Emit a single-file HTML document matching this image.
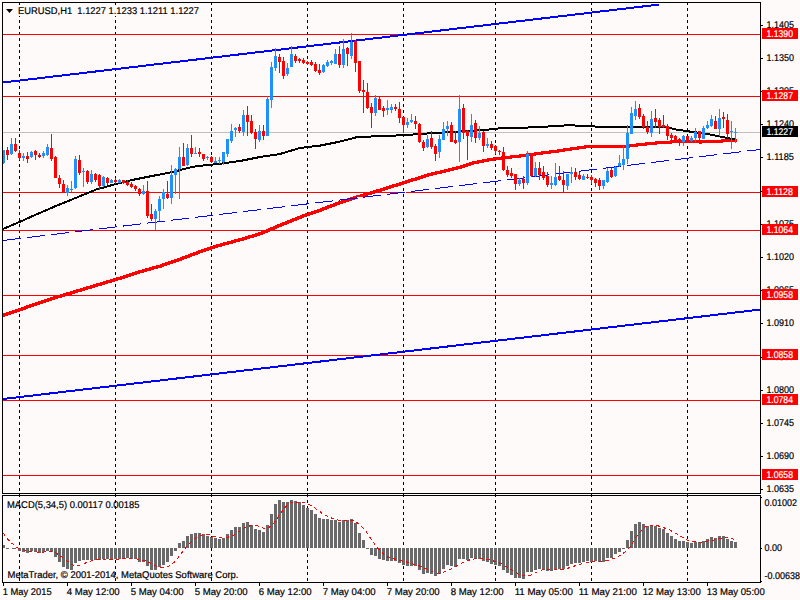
<!DOCTYPE html>
<html><head><meta charset="utf-8"><title>EURUSD,H1</title>
<style>html,body{margin:0;padding:0;background:#FFFAFA;overflow:hidden}svg{display:block}text{font-family:"Liberation Sans",sans-serif;font-size:9.8px;text-rendering:geometricPrecision;fill:#000;stroke:#000;stroke-width:0.2px}.w{fill:#fff;stroke:#fff}</style></head><body>
<svg width="800" height="600" viewBox="0 0 800 600">
<rect x="0" y="0" width="800" height="600" fill="#FFFAFA"/>
<g shape-rendering="crispEdges">
<line x1="19.5" y1="2" x2="19.5" y2="493" stroke="#000" stroke-width="1" stroke-dasharray="3 3"/>
<line x1="19.5" y1="494" x2="19.5" y2="582" stroke="#000" stroke-width="1" stroke-dasharray="3 3" stroke-dashoffset="0"/>
<line x1="115.5" y1="2" x2="115.5" y2="493" stroke="#000" stroke-width="1" stroke-dasharray="3 3"/>
<line x1="115.5" y1="494" x2="115.5" y2="582" stroke="#000" stroke-width="1" stroke-dasharray="3 3" stroke-dashoffset="0"/>
<line x1="211.5" y1="2" x2="211.5" y2="493" stroke="#000" stroke-width="1" stroke-dasharray="3 3"/>
<line x1="211.5" y1="494" x2="211.5" y2="582" stroke="#000" stroke-width="1" stroke-dasharray="3 3" stroke-dashoffset="0"/>
<line x1="307.5" y1="2" x2="307.5" y2="493" stroke="#000" stroke-width="1" stroke-dasharray="3 3"/>
<line x1="307.5" y1="494" x2="307.5" y2="582" stroke="#000" stroke-width="1" stroke-dasharray="3 3" stroke-dashoffset="0"/>
<line x1="403.5" y1="2" x2="403.5" y2="493" stroke="#000" stroke-width="1" stroke-dasharray="3 3"/>
<line x1="403.5" y1="494" x2="403.5" y2="582" stroke="#000" stroke-width="1" stroke-dasharray="3 3" stroke-dashoffset="0"/>
<line x1="495.5" y1="2" x2="495.5" y2="493" stroke="#000" stroke-width="1" stroke-dasharray="3 3"/>
<line x1="495.5" y1="494" x2="495.5" y2="582" stroke="#000" stroke-width="1" stroke-dasharray="3 3" stroke-dashoffset="0"/>
<line x1="591.5" y1="2" x2="591.5" y2="493" stroke="#000" stroke-width="1" stroke-dasharray="3 3"/>
<line x1="591.5" y1="494" x2="591.5" y2="582" stroke="#000" stroke-width="1" stroke-dasharray="3 3" stroke-dashoffset="0"/>
<line x1="687.5" y1="2" x2="687.5" y2="493" stroke="#000" stroke-width="1" stroke-dasharray="3 3"/>
<line x1="687.5" y1="494" x2="687.5" y2="582" stroke="#000" stroke-width="1" stroke-dasharray="3 3" stroke-dashoffset="0"/>
<rect x="3" y="132" width="757" height="1" fill="#C0C0C0"/>
<rect x="3" y="34" width="757" height="1" fill="#FF0000"/>
<rect x="3" y="96" width="757" height="1" fill="#FF0000"/>
<rect x="3" y="192" width="757" height="1" fill="#FF0000"/>
<rect x="3" y="230" width="757" height="1" fill="#FF0000"/>
<rect x="3" y="295" width="757" height="1" fill="#FF0000"/>
<rect x="3" y="355" width="757" height="1" fill="#FF0000"/>
<rect x="3" y="400" width="757" height="1" fill="#FF0000"/>
<rect x="3" y="475" width="757" height="1" fill="#FF0000"/>
<rect x="3" y="545" width="2" height="3" fill="#696969"/>
<rect x="18" y="548" width="3" height="3" fill="#696969"/>
<rect x="22" y="548" width="3" height="4" fill="#696969"/>
<rect x="26" y="548" width="3" height="5" fill="#696969"/>
<rect x="30" y="548" width="3" height="3" fill="#696969"/>
<rect x="34" y="548" width="3" height="4" fill="#696969"/>
<rect x="38" y="548" width="3" height="5" fill="#696969"/>
<rect x="42" y="548" width="3" height="4" fill="#696969"/>
<rect x="46" y="548" width="3" height="3" fill="#696969"/>
<rect x="50" y="548" width="3" height="4" fill="#696969"/>
<rect x="54" y="548" width="3" height="9" fill="#696969"/>
<rect x="58" y="548" width="3" height="14" fill="#696969"/>
<rect x="62" y="548" width="3" height="19" fill="#696969"/>
<rect x="66" y="548" width="3" height="21" fill="#696969"/>
<rect x="70" y="548" width="3" height="22" fill="#696969"/>
<rect x="74" y="548" width="3" height="15" fill="#696969"/>
<rect x="78" y="548" width="3" height="13" fill="#696969"/>
<rect x="82" y="548" width="3" height="12" fill="#696969"/>
<rect x="86" y="548" width="3" height="12" fill="#696969"/>
<rect x="90" y="548" width="3" height="12" fill="#696969"/>
<rect x="94" y="548" width="3" height="12" fill="#696969"/>
<rect x="98" y="548" width="3" height="12" fill="#696969"/>
<rect x="102" y="548" width="3" height="11" fill="#696969"/>
<rect x="106" y="548" width="3" height="11" fill="#696969"/>
<rect x="110" y="548" width="3" height="11" fill="#696969"/>
<rect x="114" y="548" width="3" height="11" fill="#696969"/>
<rect x="118" y="548" width="3" height="11" fill="#696969"/>
<rect x="122" y="548" width="3" height="10" fill="#696969"/>
<rect x="126" y="548" width="3" height="10" fill="#696969"/>
<rect x="130" y="548" width="3" height="11" fill="#696969"/>
<rect x="134" y="548" width="3" height="11" fill="#696969"/>
<rect x="138" y="548" width="3" height="14" fill="#696969"/>
<rect x="142" y="548" width="3" height="14" fill="#696969"/>
<rect x="146" y="548" width="3" height="18" fill="#696969"/>
<rect x="150" y="548" width="3" height="22" fill="#696969"/>
<rect x="154" y="548" width="3" height="22" fill="#696969"/>
<rect x="158" y="548" width="3" height="19" fill="#696969"/>
<rect x="162" y="548" width="3" height="17" fill="#696969"/>
<rect x="166" y="548" width="3" height="14" fill="#696969"/>
<rect x="170" y="548" width="3" height="8" fill="#696969"/>
<rect x="174" y="548" width="3" height="3" fill="#696969"/>
<rect x="178" y="543" width="3" height="5" fill="#696969"/>
<rect x="182" y="541" width="3" height="7" fill="#696969"/>
<rect x="186" y="536" width="3" height="12" fill="#696969"/>
<rect x="190" y="534" width="3" height="14" fill="#696969"/>
<rect x="194" y="533" width="3" height="15" fill="#696969"/>
<rect x="198" y="533" width="3" height="15" fill="#696969"/>
<rect x="202" y="534" width="3" height="14" fill="#696969"/>
<rect x="206" y="536" width="3" height="12" fill="#696969"/>
<rect x="210" y="537" width="3" height="11" fill="#696969"/>
<rect x="214" y="538" width="3" height="10" fill="#696969"/>
<rect x="218" y="539" width="3" height="9" fill="#696969"/>
<rect x="222" y="538" width="3" height="10" fill="#696969"/>
<rect x="226" y="534" width="3" height="14" fill="#696969"/>
<rect x="230" y="530" width="3" height="18" fill="#696969"/>
<rect x="234" y="527" width="3" height="21" fill="#696969"/>
<rect x="238" y="527" width="3" height="21" fill="#696969"/>
<rect x="242" y="523" width="3" height="25" fill="#696969"/>
<rect x="246" y="522" width="3" height="26" fill="#696969"/>
<rect x="250" y="525" width="3" height="23" fill="#696969"/>
<rect x="254" y="529" width="3" height="19" fill="#696969"/>
<rect x="258" y="530" width="3" height="18" fill="#696969"/>
<rect x="262" y="532" width="3" height="16" fill="#696969"/>
<rect x="266" y="525" width="3" height="23" fill="#696969"/>
<rect x="270" y="514" width="3" height="34" fill="#696969"/>
<rect x="274" y="504" width="3" height="44" fill="#696969"/>
<rect x="278" y="500" width="3" height="48" fill="#696969"/>
<rect x="282" y="502" width="3" height="46" fill="#696969"/>
<rect x="286" y="502" width="3" height="46" fill="#696969"/>
<rect x="290" y="500" width="3" height="48" fill="#696969"/>
<rect x="294" y="501" width="3" height="47" fill="#696969"/>
<rect x="298" y="502" width="3" height="46" fill="#696969"/>
<rect x="302" y="505" width="3" height="43" fill="#696969"/>
<rect x="306" y="508" width="3" height="40" fill="#696969"/>
<rect x="310" y="510" width="3" height="38" fill="#696969"/>
<rect x="314" y="514" width="3" height="34" fill="#696969"/>
<rect x="318" y="518" width="3" height="30" fill="#696969"/>
<rect x="322" y="519" width="3" height="29" fill="#696969"/>
<rect x="326" y="519" width="3" height="29" fill="#696969"/>
<rect x="330" y="520" width="3" height="28" fill="#696969"/>
<rect x="334" y="520" width="3" height="28" fill="#696969"/>
<rect x="338" y="522" width="3" height="26" fill="#696969"/>
<rect x="342" y="520" width="3" height="28" fill="#696969"/>
<rect x="346" y="520" width="3" height="28" fill="#696969"/>
<rect x="350" y="519" width="3" height="29" fill="#696969"/>
<rect x="354" y="523" width="3" height="25" fill="#696969"/>
<rect x="358" y="533" width="3" height="15" fill="#696969"/>
<rect x="362" y="540" width="3" height="8" fill="#696969"/>
<rect x="366" y="548" width="3" height="1" fill="#696969"/>
<rect x="370" y="548" width="3" height="7" fill="#696969"/>
<rect x="374" y="548" width="3" height="8" fill="#696969"/>
<rect x="378" y="548" width="3" height="11" fill="#696969"/>
<rect x="382" y="548" width="3" height="12" fill="#696969"/>
<rect x="386" y="548" width="3" height="13" fill="#696969"/>
<rect x="390" y="548" width="3" height="13" fill="#696969"/>
<rect x="394" y="548" width="3" height="13" fill="#696969"/>
<rect x="398" y="548" width="3" height="15" fill="#696969"/>
<rect x="402" y="548" width="3" height="17" fill="#696969"/>
<rect x="406" y="548" width="3" height="18" fill="#696969"/>
<rect x="410" y="548" width="3" height="18" fill="#696969"/>
<rect x="414" y="548" width="3" height="18" fill="#696969"/>
<rect x="418" y="548" width="3" height="22" fill="#696969"/>
<rect x="422" y="548" width="3" height="26" fill="#696969"/>
<rect x="426" y="548" width="3" height="25" fill="#696969"/>
<rect x="430" y="548" width="3" height="26" fill="#696969"/>
<rect x="434" y="548" width="3" height="28" fill="#696969"/>
<rect x="438" y="548" width="3" height="26" fill="#696969"/>
<rect x="442" y="548" width="3" height="21" fill="#696969"/>
<rect x="446" y="548" width="3" height="17" fill="#696969"/>
<rect x="450" y="548" width="3" height="18" fill="#696969"/>
<rect x="454" y="548" width="3" height="19" fill="#696969"/>
<rect x="458" y="548" width="3" height="11" fill="#696969"/>
<rect x="462" y="548" width="3" height="11" fill="#696969"/>
<rect x="466" y="548" width="3" height="12" fill="#696969"/>
<rect x="470" y="548" width="3" height="10" fill="#696969"/>
<rect x="474" y="548" width="3" height="11" fill="#696969"/>
<rect x="478" y="548" width="3" height="11" fill="#696969"/>
<rect x="482" y="548" width="3" height="13" fill="#696969"/>
<rect x="486" y="548" width="3" height="14" fill="#696969"/>
<rect x="490" y="548" width="3" height="16" fill="#696969"/>
<rect x="494" y="548" width="3" height="17" fill="#696969"/>
<rect x="498" y="548" width="3" height="18" fill="#696969"/>
<rect x="502" y="548" width="3" height="22" fill="#696969"/>
<rect x="506" y="548" width="3" height="25" fill="#696969"/>
<rect x="510" y="548" width="3" height="27" fill="#696969"/>
<rect x="514" y="548" width="3" height="30" fill="#696969"/>
<rect x="518" y="548" width="3" height="30" fill="#696969"/>
<rect x="522" y="548" width="3" height="31" fill="#696969"/>
<rect x="526" y="548" width="3" height="24" fill="#696969"/>
<rect x="530" y="548" width="3" height="24" fill="#696969"/>
<rect x="534" y="548" width="3" height="22" fill="#696969"/>
<rect x="538" y="548" width="3" height="21" fill="#696969"/>
<rect x="542" y="548" width="3" height="22" fill="#696969"/>
<rect x="546" y="548" width="3" height="23" fill="#696969"/>
<rect x="550" y="548" width="3" height="23" fill="#696969"/>
<rect x="554" y="548" width="3" height="22" fill="#696969"/>
<rect x="558" y="548" width="3" height="21" fill="#696969"/>
<rect x="562" y="548" width="3" height="21" fill="#696969"/>
<rect x="566" y="548" width="3" height="18" fill="#696969"/>
<rect x="570" y="548" width="3" height="16" fill="#696969"/>
<rect x="574" y="548" width="3" height="15" fill="#696969"/>
<rect x="578" y="548" width="3" height="15" fill="#696969"/>
<rect x="582" y="548" width="3" height="14" fill="#696969"/>
<rect x="586" y="548" width="3" height="13" fill="#696969"/>
<rect x="590" y="548" width="3" height="14" fill="#696969"/>
<rect x="594" y="548" width="3" height="13" fill="#696969"/>
<rect x="598" y="548" width="3" height="14" fill="#696969"/>
<rect x="602" y="548" width="3" height="14" fill="#696969"/>
<rect x="606" y="548" width="3" height="10" fill="#696969"/>
<rect x="610" y="548" width="3" height="10" fill="#696969"/>
<rect x="614" y="548" width="3" height="6" fill="#696969"/>
<rect x="618" y="548" width="3" height="4" fill="#696969"/>
<rect x="622" y="548" width="3" height="1" fill="#696969"/>
<rect x="626" y="540" width="3" height="8" fill="#696969"/>
<rect x="630" y="531" width="3" height="17" fill="#696969"/>
<rect x="634" y="524" width="3" height="24" fill="#696969"/>
<rect x="638" y="522" width="3" height="26" fill="#696969"/>
<rect x="642" y="524" width="3" height="24" fill="#696969"/>
<rect x="646" y="526" width="3" height="22" fill="#696969"/>
<rect x="650" y="526" width="3" height="22" fill="#696969"/>
<rect x="654" y="526" width="3" height="22" fill="#696969"/>
<rect x="658" y="528" width="3" height="20" fill="#696969"/>
<rect x="662" y="529" width="3" height="19" fill="#696969"/>
<rect x="666" y="533" width="3" height="15" fill="#696969"/>
<rect x="670" y="536" width="3" height="12" fill="#696969"/>
<rect x="674" y="539" width="3" height="9" fill="#696969"/>
<rect x="678" y="541" width="3" height="7" fill="#696969"/>
<rect x="682" y="541" width="3" height="7" fill="#696969"/>
<rect x="686" y="542" width="3" height="6" fill="#696969"/>
<rect x="690" y="543" width="3" height="5" fill="#696969"/>
<rect x="694" y="542" width="3" height="6" fill="#696969"/>
<rect x="698" y="542" width="3" height="6" fill="#696969"/>
<rect x="702" y="541" width="3" height="7" fill="#696969"/>
<rect x="706" y="539" width="3" height="9" fill="#696969"/>
<rect x="710" y="537" width="3" height="11" fill="#696969"/>
<rect x="714" y="538" width="3" height="10" fill="#696969"/>
<rect x="718" y="536" width="3" height="12" fill="#696969"/>
<rect x="722" y="536" width="3" height="12" fill="#696969"/>
<rect x="726" y="539" width="3" height="9" fill="#696969"/>
<rect x="730" y="541" width="3" height="7" fill="#696969"/>
<rect x="734" y="542" width="3" height="6" fill="#696969"/>
<line x1="6" y1="548.5" x2="18" y2="548.5" stroke="#696969" stroke-width="1" stroke-dasharray="3 3 4 10"/>
</g>
<g shape-rendering="crispEdges" fill="none">
<line x1="3" y1="82.5" x2="659" y2="4.55" stroke="#0000FF" stroke-width="2"/>
<line x1="3" y1="399" x2="760" y2="309.6" stroke="#0000FF" stroke-width="2"/>
<rect x="3" y="313" width="2" height="4" fill="#FF0000"/><rect x="5" y="313" width="1" height="3" fill="#FF0000"/><rect x="6" y="312" width="2" height="4" fill="#FF0000"/><rect x="8" y="312" width="1" height="3" fill="#FF0000"/><rect x="9" y="311" width="2" height="4" fill="#FF0000"/><rect x="11" y="311" width="1" height="3" fill="#FF0000"/><rect x="12" y="310" width="2" height="4" fill="#FF0000"/><rect x="14" y="310" width="1" height="3" fill="#FF0000"/><rect x="15" y="309" width="2" height="4" fill="#FF0000"/><rect x="17" y="309" width="1" height="3" fill="#FF0000"/><rect x="18" y="308" width="2" height="4" fill="#FF0000"/><rect x="20" y="308" width="1" height="3" fill="#FF0000"/><rect x="21" y="307" width="2" height="4" fill="#FF0000"/><rect x="23" y="307" width="1" height="3" fill="#FF0000"/><rect x="24" y="306" width="2" height="4" fill="#FF0000"/><rect x="26" y="305" width="2" height="4" fill="#FF0000"/><rect x="28" y="305" width="1" height="3" fill="#FF0000"/><rect x="29" y="304" width="2" height="4" fill="#FF0000"/><rect x="31" y="304" width="1" height="3" fill="#FF0000"/><rect x="32" y="303" width="2" height="4" fill="#FF0000"/><rect x="34" y="303" width="1" height="3" fill="#FF0000"/><rect x="35" y="302" width="2" height="4" fill="#FF0000"/><rect x="37" y="302" width="1" height="3" fill="#FF0000"/><rect x="38" y="301" width="2" height="4" fill="#FF0000"/><rect x="40" y="301" width="1" height="3" fill="#FF0000"/><rect x="41" y="300" width="2" height="4" fill="#FF0000"/><rect x="43" y="300" width="1" height="3" fill="#FF0000"/><rect x="44" y="299" width="2" height="4" fill="#FF0000"/><rect x="46" y="299" width="1" height="3" fill="#FF0000"/><rect x="47" y="298" width="2" height="4" fill="#FF0000"/><rect x="49" y="298" width="1" height="3" fill="#FF0000"/><rect x="50" y="297" width="2" height="4" fill="#FF0000"/><rect x="52" y="297" width="1" height="3" fill="#FF0000"/><rect x="53" y="296" width="2" height="4" fill="#FF0000"/><rect x="55" y="296" width="1" height="3" fill="#FF0000"/><rect x="56" y="295" width="2" height="4" fill="#FF0000"/><rect x="58" y="295" width="2" height="3" fill="#FF0000"/><rect x="60" y="294" width="2" height="4" fill="#FF0000"/><rect x="62" y="294" width="1" height="3" fill="#FF0000"/><rect x="63" y="293" width="2" height="4" fill="#FF0000"/><rect x="65" y="293" width="1" height="3" fill="#FF0000"/><rect x="66" y="292" width="2" height="4" fill="#FF0000"/><rect x="68" y="292" width="2" height="3" fill="#FF0000"/><rect x="70" y="291" width="2" height="4" fill="#FF0000"/><rect x="72" y="291" width="1" height="3" fill="#FF0000"/><rect x="73" y="290" width="2" height="4" fill="#FF0000"/><rect x="75" y="290" width="1" height="3" fill="#FF0000"/><rect x="76" y="289" width="2" height="4" fill="#FF0000"/><rect x="78" y="289" width="2" height="3" fill="#FF0000"/><rect x="80" y="288" width="2" height="4" fill="#FF0000"/><rect x="82" y="288" width="1" height="3" fill="#FF0000"/><rect x="83" y="287" width="2" height="4" fill="#FF0000"/><rect x="85" y="287" width="1" height="3" fill="#FF0000"/><rect x="86" y="286" width="2" height="4" fill="#FF0000"/><rect x="88" y="286" width="2" height="3" fill="#FF0000"/><rect x="90" y="285" width="2" height="4" fill="#FF0000"/><rect x="92" y="285" width="1" height="3" fill="#FF0000"/><rect x="93" y="284" width="2" height="4" fill="#FF0000"/><rect x="95" y="284" width="1" height="3" fill="#FF0000"/><rect x="96" y="283" width="2" height="4" fill="#FF0000"/><rect x="98" y="283" width="2" height="3" fill="#FF0000"/><rect x="100" y="282" width="2" height="4" fill="#FF0000"/><rect x="102" y="282" width="1" height="3" fill="#FF0000"/><rect x="103" y="281" width="2" height="4" fill="#FF0000"/><rect x="105" y="281" width="1" height="3" fill="#FF0000"/><rect x="106" y="280" width="2" height="4" fill="#FF0000"/><rect x="108" y="280" width="2" height="3" fill="#FF0000"/><rect x="110" y="279" width="2" height="4" fill="#FF0000"/><rect x="112" y="279" width="1" height="3" fill="#FF0000"/><rect x="113" y="278" width="2" height="4" fill="#FF0000"/><rect x="115" y="278" width="1" height="3" fill="#FF0000"/><rect x="116" y="277" width="2" height="4" fill="#FF0000"/><rect x="118" y="277" width="2" height="3" fill="#FF0000"/><rect x="120" y="276" width="2" height="4" fill="#FF0000"/><rect x="122" y="276" width="1" height="3" fill="#FF0000"/><rect x="123" y="275" width="2" height="4" fill="#FF0000"/><rect x="125" y="275" width="1" height="3" fill="#FF0000"/><rect x="126" y="274" width="2" height="4" fill="#FF0000"/><rect x="128" y="274" width="1" height="3" fill="#FF0000"/><rect x="129" y="273" width="2" height="4" fill="#FF0000"/><rect x="131" y="273" width="1" height="3" fill="#FF0000"/><rect x="132" y="272" width="2" height="4" fill="#FF0000"/><rect x="134" y="272" width="1" height="3" fill="#FF0000"/><rect x="135" y="271" width="2" height="4" fill="#FF0000"/><rect x="137" y="271" width="1" height="3" fill="#FF0000"/><rect x="138" y="270" width="2" height="4" fill="#FF0000"/><rect x="140" y="270" width="2" height="3" fill="#FF0000"/><rect x="142" y="269" width="2" height="4" fill="#FF0000"/><rect x="144" y="269" width="1" height="3" fill="#FF0000"/><rect x="145" y="268" width="2" height="4" fill="#FF0000"/><rect x="147" y="268" width="2" height="3" fill="#FF0000"/><rect x="149" y="267" width="2" height="4" fill="#FF0000"/><rect x="151" y="267" width="1" height="3" fill="#FF0000"/><rect x="152" y="266" width="2" height="4" fill="#FF0000"/><rect x="154" y="266" width="2" height="3" fill="#FF0000"/><rect x="156" y="265" width="2" height="4" fill="#FF0000"/><rect x="158" y="265" width="2" height="3" fill="#FF0000"/><rect x="160" y="264" width="2" height="4" fill="#FF0000"/><rect x="162" y="263" width="2" height="4" fill="#FF0000"/><rect x="164" y="263" width="1" height="3" fill="#FF0000"/><rect x="165" y="262" width="2" height="4" fill="#FF0000"/><rect x="167" y="262" width="1" height="3" fill="#FF0000"/><rect x="168" y="261" width="2" height="4" fill="#FF0000"/><rect x="170" y="261" width="1" height="3" fill="#FF0000"/><rect x="171" y="260" width="2" height="4" fill="#FF0000"/><rect x="173" y="260" width="1" height="3" fill="#FF0000"/><rect x="174" y="259" width="2" height="4" fill="#FF0000"/><rect x="176" y="259" width="1" height="3" fill="#FF0000"/><rect x="177" y="258" width="2" height="4" fill="#FF0000"/><rect x="179" y="258" width="1" height="3" fill="#FF0000"/><rect x="180" y="257" width="2" height="4" fill="#FF0000"/><rect x="182" y="256" width="2" height="4" fill="#FF0000"/><rect x="184" y="256" width="1" height="3" fill="#FF0000"/><rect x="185" y="255" width="2" height="4" fill="#FF0000"/><rect x="187" y="255" width="1" height="3" fill="#FF0000"/><rect x="188" y="254" width="2" height="4" fill="#FF0000"/><rect x="190" y="253" width="2" height="4" fill="#FF0000"/><rect x="192" y="253" width="1" height="3" fill="#FF0000"/><rect x="193" y="252" width="2" height="4" fill="#FF0000"/><rect x="195" y="252" width="1" height="3" fill="#FF0000"/><rect x="196" y="251" width="2" height="4" fill="#FF0000"/><rect x="198" y="250" width="2" height="4" fill="#FF0000"/><rect x="200" y="250" width="1" height="3" fill="#FF0000"/><rect x="201" y="249" width="2" height="4" fill="#FF0000"/><rect x="203" y="249" width="1" height="3" fill="#FF0000"/><rect x="204" y="248" width="2" height="4" fill="#FF0000"/><rect x="206" y="248" width="1" height="3" fill="#FF0000"/><rect x="207" y="247" width="2" height="4" fill="#FF0000"/><rect x="209" y="247" width="1" height="3" fill="#FF0000"/><rect x="210" y="246" width="2" height="4" fill="#FF0000"/><rect x="212" y="246" width="1" height="3" fill="#FF0000"/><rect x="213" y="245" width="2" height="4" fill="#FF0000"/><rect x="215" y="245" width="1" height="3" fill="#FF0000"/><rect x="216" y="244" width="2" height="4" fill="#FF0000"/><rect x="218" y="244" width="2" height="3" fill="#FF0000"/><rect x="220" y="243" width="2" height="4" fill="#FF0000"/><rect x="222" y="243" width="1" height="3" fill="#FF0000"/><rect x="223" y="242" width="2" height="4" fill="#FF0000"/><rect x="225" y="242" width="2" height="3" fill="#FF0000"/><rect x="227" y="241" width="2" height="4" fill="#FF0000"/><rect x="229" y="241" width="2" height="3" fill="#FF0000"/><rect x="231" y="240" width="2" height="4" fill="#FF0000"/><rect x="233" y="240" width="1" height="3" fill="#FF0000"/><rect x="234" y="239" width="2" height="4" fill="#FF0000"/><rect x="236" y="239" width="2" height="3" fill="#FF0000"/><rect x="238" y="238" width="2" height="4" fill="#FF0000"/><rect x="240" y="238" width="2" height="3" fill="#FF0000"/><rect x="242" y="237" width="2" height="4" fill="#FF0000"/><rect x="244" y="237" width="1" height="3" fill="#FF0000"/><rect x="245" y="236" width="2" height="4" fill="#FF0000"/><rect x="247" y="236" width="1" height="3" fill="#FF0000"/><rect x="248" y="235" width="2" height="4" fill="#FF0000"/><rect x="250" y="235" width="2" height="3" fill="#FF0000"/><rect x="252" y="234" width="2" height="4" fill="#FF0000"/><rect x="254" y="234" width="1" height="3" fill="#FF0000"/><rect x="255" y="233" width="2" height="4" fill="#FF0000"/><rect x="257" y="233" width="1" height="3" fill="#FF0000"/><rect x="258" y="232" width="2" height="4" fill="#FF0000"/><rect x="260" y="232" width="1" height="3" fill="#FF0000"/><rect x="261" y="231" width="2" height="4" fill="#FF0000"/><rect x="263" y="230" width="2" height="4" fill="#FF0000"/><rect x="265" y="230" width="1" height="3" fill="#FF0000"/><rect x="266" y="229" width="2" height="4" fill="#FF0000"/><rect x="268" y="228" width="2" height="4" fill="#FF0000"/><rect x="270" y="227" width="2" height="4" fill="#FF0000"/><rect x="272" y="227" width="1" height="3" fill="#FF0000"/><rect x="273" y="226" width="2" height="4" fill="#FF0000"/><rect x="275" y="225" width="2" height="4" fill="#FF0000"/><rect x="277" y="224" width="2" height="4" fill="#FF0000"/><rect x="279" y="224" width="1" height="3" fill="#FF0000"/><rect x="280" y="223" width="2" height="4" fill="#FF0000"/><rect x="282" y="222" width="2" height="4" fill="#FF0000"/><rect x="284" y="222" width="1" height="3" fill="#FF0000"/><rect x="285" y="221" width="2" height="4" fill="#FF0000"/><rect x="287" y="220" width="2" height="4" fill="#FF0000"/><rect x="289" y="220" width="1" height="3" fill="#FF0000"/><rect x="290" y="219" width="2" height="4" fill="#FF0000"/><rect x="292" y="218" width="2" height="4" fill="#FF0000"/><rect x="294" y="218" width="1" height="3" fill="#FF0000"/><rect x="295" y="217" width="2" height="4" fill="#FF0000"/><rect x="297" y="216" width="2" height="4" fill="#FF0000"/><rect x="299" y="216" width="1" height="3" fill="#FF0000"/><rect x="300" y="215" width="2" height="4" fill="#FF0000"/><rect x="302" y="214" width="2" height="4" fill="#FF0000"/><rect x="304" y="214" width="1" height="3" fill="#FF0000"/><rect x="305" y="213" width="2" height="4" fill="#FF0000"/><rect x="307" y="213" width="1" height="3" fill="#FF0000"/><rect x="308" y="212" width="2" height="4" fill="#FF0000"/><rect x="310" y="212" width="1" height="3" fill="#FF0000"/><rect x="311" y="211" width="2" height="4" fill="#FF0000"/><rect x="313" y="211" width="1" height="3" fill="#FF0000"/><rect x="314" y="210" width="2" height="4" fill="#FF0000"/><rect x="316" y="210" width="1" height="3" fill="#FF0000"/><rect x="317" y="209" width="2" height="4" fill="#FF0000"/><rect x="319" y="209" width="1" height="3" fill="#FF0000"/><rect x="320" y="208" width="2" height="4" fill="#FF0000"/><rect x="322" y="207" width="2" height="4" fill="#FF0000"/><rect x="324" y="207" width="1" height="3" fill="#FF0000"/><rect x="325" y="206" width="2" height="4" fill="#FF0000"/><rect x="327" y="205" width="2" height="4" fill="#FF0000"/><rect x="329" y="205" width="1" height="3" fill="#FF0000"/><rect x="330" y="204" width="2" height="4" fill="#FF0000"/><rect x="332" y="204" width="1" height="3" fill="#FF0000"/><rect x="333" y="203" width="2" height="4" fill="#FF0000"/><rect x="335" y="202" width="2" height="4" fill="#FF0000"/><rect x="337" y="202" width="1" height="3" fill="#FF0000"/><rect x="338" y="201" width="2" height="4" fill="#FF0000"/><rect x="340" y="201" width="1" height="3" fill="#FF0000"/><rect x="341" y="200" width="2" height="4" fill="#FF0000"/><rect x="343" y="200" width="1" height="3" fill="#FF0000"/><rect x="344" y="199" width="2" height="4" fill="#FF0000"/><rect x="346" y="199" width="1" height="3" fill="#FF0000"/><rect x="347" y="198" width="2" height="4" fill="#FF0000"/><rect x="349" y="198" width="1" height="3" fill="#FF0000"/><rect x="350" y="197" width="2" height="4" fill="#FF0000"/><rect x="352" y="197" width="1" height="3" fill="#FF0000"/><rect x="353" y="196" width="2" height="4" fill="#FF0000"/><rect x="355" y="196" width="1" height="3" fill="#FF0000"/><rect x="356" y="195" width="2" height="4" fill="#FF0000"/><rect x="358" y="195" width="2" height="3" fill="#FF0000"/><rect x="360" y="194" width="2" height="4" fill="#FF0000"/><rect x="362" y="194" width="1" height="3" fill="#FF0000"/><rect x="363" y="193" width="2" height="4" fill="#FF0000"/><rect x="365" y="193" width="1" height="3" fill="#FF0000"/><rect x="366" y="192" width="2" height="4" fill="#FF0000"/><rect x="368" y="192" width="2" height="3" fill="#FF0000"/><rect x="370" y="191" width="2" height="4" fill="#FF0000"/><rect x="372" y="191" width="1" height="3" fill="#FF0000"/><rect x="373" y="190" width="2" height="4" fill="#FF0000"/><rect x="375" y="190" width="1" height="3" fill="#FF0000"/><rect x="376" y="189" width="2" height="4" fill="#FF0000"/><rect x="378" y="189" width="2" height="3" fill="#FF0000"/><rect x="380" y="188" width="2" height="4" fill="#FF0000"/><rect x="382" y="188" width="1" height="3" fill="#FF0000"/><rect x="383" y="187" width="2" height="4" fill="#FF0000"/><rect x="385" y="187" width="1" height="3" fill="#FF0000"/><rect x="386" y="186" width="2" height="4" fill="#FF0000"/><rect x="388" y="186" width="1" height="3" fill="#FF0000"/><rect x="389" y="185" width="2" height="4" fill="#FF0000"/><rect x="391" y="185" width="1" height="3" fill="#FF0000"/><rect x="392" y="184" width="2" height="4" fill="#FF0000"/><rect x="394" y="184" width="2" height="3" fill="#FF0000"/><rect x="396" y="183" width="2" height="4" fill="#FF0000"/><rect x="398" y="183" width="1" height="3" fill="#FF0000"/><rect x="399" y="182" width="2" height="4" fill="#FF0000"/><rect x="401" y="182" width="1" height="3" fill="#FF0000"/><rect x="402" y="181" width="2" height="4" fill="#FF0000"/><rect x="404" y="181" width="1" height="3" fill="#FF0000"/><rect x="405" y="180" width="2" height="4" fill="#FF0000"/><rect x="407" y="180" width="1" height="3" fill="#FF0000"/><rect x="408" y="179" width="2" height="4" fill="#FF0000"/><rect x="410" y="179" width="1" height="3" fill="#FF0000"/><rect x="411" y="178" width="2" height="4" fill="#FF0000"/><rect x="413" y="178" width="2" height="3" fill="#FF0000"/><rect x="415" y="177" width="2" height="4" fill="#FF0000"/><rect x="417" y="177" width="1" height="3" fill="#FF0000"/><rect x="418" y="176" width="2" height="4" fill="#FF0000"/><rect x="420" y="176" width="1" height="3" fill="#FF0000"/><rect x="421" y="175" width="2" height="4" fill="#FF0000"/><rect x="423" y="175" width="1" height="3" fill="#FF0000"/><rect x="424" y="174" width="2" height="4" fill="#FF0000"/><rect x="426" y="174" width="1" height="3" fill="#FF0000"/><rect x="427" y="173" width="2" height="4" fill="#FF0000"/><rect x="429" y="173" width="2" height="3" fill="#FF0000"/><rect x="431" y="172" width="2" height="4" fill="#FF0000"/><rect x="433" y="172" width="2" height="3" fill="#FF0000"/><rect x="435" y="171" width="2" height="4" fill="#FF0000"/><rect x="437" y="171" width="3" height="3" fill="#FF0000"/><rect x="440" y="170" width="2" height="4" fill="#FF0000"/><rect x="442" y="170" width="2" height="3" fill="#FF0000"/><rect x="444" y="169" width="2" height="4" fill="#FF0000"/><rect x="446" y="169" width="2" height="3" fill="#FF0000"/><rect x="448" y="168" width="2" height="4" fill="#FF0000"/><rect x="450" y="168" width="2" height="3" fill="#FF0000"/><rect x="452" y="167" width="2" height="4" fill="#FF0000"/><rect x="454" y="167" width="2" height="3" fill="#FF0000"/><rect x="456" y="166" width="2" height="4" fill="#FF0000"/><rect x="458" y="166" width="2" height="3" fill="#FF0000"/><rect x="460" y="165" width="2" height="4" fill="#FF0000"/><rect x="462" y="165" width="1" height="3" fill="#FF0000"/><rect x="463" y="164" width="2" height="4" fill="#FF0000"/><rect x="465" y="164" width="1" height="3" fill="#FF0000"/><rect x="466" y="163" width="2" height="4" fill="#FF0000"/><rect x="468" y="163" width="1" height="3" fill="#FF0000"/><rect x="469" y="162" width="2" height="4" fill="#FF0000"/><rect x="471" y="162" width="1" height="3" fill="#FF0000"/><rect x="472" y="161" width="2" height="4" fill="#FF0000"/><rect x="474" y="161" width="3" height="3" fill="#FF0000"/><rect x="477" y="160" width="2" height="4" fill="#FF0000"/><rect x="479" y="160" width="3" height="3" fill="#FF0000"/><rect x="482" y="159" width="2" height="4" fill="#FF0000"/><rect x="484" y="159" width="3" height="3" fill="#FF0000"/><rect x="487" y="158" width="2" height="4" fill="#FF0000"/><rect x="489" y="158" width="4" height="3" fill="#FF0000"/><rect x="493" y="157" width="2" height="4" fill="#FF0000"/><rect x="495" y="157" width="6" height="3" fill="#FF0000"/><rect x="501" y="156" width="2" height="4" fill="#FF0000"/><rect x="503" y="156" width="7" height="3" fill="#FF0000"/><rect x="510" y="155" width="2" height="4" fill="#FF0000"/><rect x="512" y="155" width="7" height="3" fill="#FF0000"/><rect x="519" y="154" width="2" height="4" fill="#FF0000"/><rect x="521" y="154" width="5" height="3" fill="#FF0000"/><rect x="526" y="153" width="2" height="4" fill="#FF0000"/><rect x="528" y="153" width="6" height="3" fill="#FF0000"/><rect x="534" y="152" width="2" height="4" fill="#FF0000"/><rect x="536" y="152" width="5" height="3" fill="#FF0000"/><rect x="541" y="151" width="2" height="4" fill="#FF0000"/><rect x="543" y="151" width="6" height="3" fill="#FF0000"/><rect x="549" y="150" width="2" height="4" fill="#FF0000"/><rect x="551" y="150" width="6" height="3" fill="#FF0000"/><rect x="557" y="149" width="2" height="4" fill="#FF0000"/><rect x="559" y="149" width="4" height="3" fill="#FF0000"/><rect x="563" y="148" width="2" height="4" fill="#FF0000"/><rect x="565" y="148" width="5" height="3" fill="#FF0000"/><rect x="570" y="147" width="2" height="4" fill="#FF0000"/><rect x="572" y="147" width="5" height="3" fill="#FF0000"/><rect x="577" y="146" width="2" height="4" fill="#FF0000"/><rect x="579" y="146" width="5" height="3" fill="#FF0000"/><rect x="584" y="145" width="2" height="4" fill="#FF0000"/><rect x="586" y="145" width="42" height="3" fill="#FF0000"/><rect x="628" y="144" width="2" height="4" fill="#FF0000"/><rect x="630" y="144" width="6" height="3" fill="#FF0000"/><rect x="636" y="143" width="2" height="4" fill="#FF0000"/><rect x="638" y="143" width="7" height="3" fill="#FF0000"/><rect x="645" y="142" width="2" height="4" fill="#FF0000"/><rect x="647" y="142" width="8" height="3" fill="#FF0000"/><rect x="655" y="141" width="2" height="4" fill="#FF0000"/><rect x="657" y="141" width="13" height="3" fill="#FF0000"/><rect x="670" y="140" width="2" height="4" fill="#FF0000"/><rect x="672" y="140" width="27" height="3" fill="#FF0000"/><rect x="699" y="140" width="3" height="4" fill="#FF0000"/><rect x="702" y="140" width="19" height="3" fill="#FF0000"/><rect x="721" y="139" width="2" height="4" fill="#FF0000"/><rect x="723" y="139" width="14" height="3" fill="#FF0000"/>
<polyline points="3,229 19,222.2 35,215 57,205.5 77,197.4 96,189.6 100,188.6 115,184.2 134,179.6 153,175.8 173,172 188,168 196,166.2 218,164 240,161 260,157 280,154 300,148 320,145.6 340,141.6 356,137.4 380,136 400,135.4 420,134 450,132 484,130 496,128.8 500,128.1 526,127.9 530,127.1 546,126.9 550,126.1 562,125.9 566,125.1 573,125.1 577,125.9 593,126.1 597,126.9 633,127 668,127 673,129 688,131.3 708,134 722,137 736,139.6" stroke="#000" stroke-width="2" stroke-linejoin="round"/>
<line x1="3" y1="240.5" x2="760" y2="149.5" stroke="#FFFAFA" stroke-width="1"/>
<line x1="3" y1="240.5" x2="760" y2="149.5" stroke="#0000FF" stroke-width="1" stroke-dasharray="18.13 6.043"/>
<polyline points="3,533.0 5,535.5 8,539.5 11,542.5 15,546.0 19,548.5 23,549.5 27,551.0 32,551.5 37,552.0 40,552.5 44,552.0 48,551.0 52,551.5 56,553.0 60,555.5 63,558.0 67,561.0 70,563.0 74,565.5 77,566.0 81,564.5 87,562.5 92,560.5 97,559.5 103,559.5 112,559.5 120,559.0 128,558.5 134,558.5 140,559.5 146,561.0 150,563.0 154,565.0 158,567.0 163,568.0 167,567.0 171,565.0 175,561.5 178,558.0 181,554.0 185,548.5 188,545.0 192,541.0 197,537.0 203,534.5 209,534.5 212,536.0 216,536.5 222,537.5 227,537.5 233,535.5 239,531.5 245,527.5 251,525.5 257,525.5 260,527.0 264,528.5 269,527.5 274,523.0 278,517.0 283,510.0 288,504.0 292,502.0 298,502.0 304,502.5 307,504.0 311,505.5 317,509.5 323,514.0 329,517.0 335,519.5 341,520.5 347,520.5 352,520.0 356,522.0 360,524.5 365,530.0 369,536.0 373,541.5 376,546.5 380,550.5 384,554.5 388,557.5 393,558.5 399,560.5 405,561.5 411,563.5 417,565.0 423,567.5 429,570.0 435,573.0 441,573.0 447,571.0 453,568.0 459,564.5 465,561.5 471,559.5 477,558.5 483,558.5 489,559.5 495,561.5 501,563.5 507,567.0 513,570.5 519,574.5 525,576.0 531,575.0 537,572.0 543,569.5 549,569.5 555,569.5 561,569.5 567,568.5 573,566.5 579,564.5 585,563.0 591,561.5 597,561.5 603,561.5 609,560.0 615,558.0 621,555.0 627,550.5 631,545.5 635,538.5 640,532.0 645,527.0 651,525.0 657,525.5 663,527.5 669,529.5 675,533.0 681,536.5 687,540.0 693,541.5 699,542.5 705,541.5 711,540.5 717,539.5 723,537.5 729,537.5 733,539.0 736,540.0" stroke="#FF0000" stroke-width="1" stroke-dasharray="3.4 3.2"/>
</g>
<g shape-rendering="crispEdges">
<rect x="3" y="150" width="1" height="14" fill="#1E90FF"/>
<rect x="3" y="150" width="2" height="13" fill="#1E90FF"/>
<rect x="7" y="147" width="1" height="13" fill="#FF0000"/>
<rect x="6" y="150" width="3" height="5" fill="#FF0000"/>
<rect x="11" y="138" width="1" height="17" fill="#1E90FF"/>
<rect x="10" y="144" width="3" height="10" fill="#1E90FF"/>
<rect x="15" y="138" width="1" height="14" fill="#FF0000"/>
<rect x="14" y="144" width="3" height="7" fill="#FF0000"/>
<rect x="19" y="150" width="1" height="10" fill="#FF0000"/>
<rect x="18" y="153" width="3" height="5" fill="#FF0000"/>
<rect x="23" y="153" width="1" height="8" fill="#1E90FF"/>
<rect x="22" y="156" width="3" height="2" fill="#1E90FF"/>
<rect x="27" y="152" width="1" height="11" fill="#FF0000"/>
<rect x="26" y="156" width="3" height="3" fill="#FF0000"/>
<rect x="31" y="151" width="1" height="7" fill="#1E90FF"/>
<rect x="30" y="152" width="3" height="5" fill="#1E90FF"/>
<rect x="35" y="150" width="1" height="10" fill="#FF0000"/>
<rect x="34" y="151" width="3" height="4" fill="#FF0000"/>
<rect x="39" y="153" width="1" height="5" fill="#FF0000"/>
<rect x="38" y="155" width="3" height="2" fill="#FF0000"/>
<rect x="43" y="151" width="1" height="7" fill="#1E90FF"/>
<rect x="42" y="153" width="3" height="3" fill="#1E90FF"/>
<rect x="47" y="144" width="1" height="12" fill="#1E90FF"/>
<rect x="46" y="147" width="3" height="8" fill="#1E90FF"/>
<rect x="51" y="134" width="1" height="27" fill="#FF0000"/>
<rect x="50" y="148" width="3" height="11" fill="#FF0000"/>
<rect x="55" y="156" width="1" height="22" fill="#FF0000"/>
<rect x="54" y="157" width="3" height="21" fill="#FF0000"/>
<rect x="59" y="175" width="1" height="13" fill="#FF0000"/>
<rect x="58" y="178" width="3" height="6" fill="#FF0000"/>
<rect x="63" y="180" width="1" height="12" fill="#FF0000"/>
<rect x="62" y="184" width="3" height="8" fill="#FF0000"/>
<rect x="67" y="185" width="1" height="11" fill="#1E90FF"/>
<rect x="66" y="188" width="3" height="5" fill="#1E90FF"/>
<rect x="71" y="181" width="1" height="11" fill="#1E90FF"/>
<rect x="70" y="189" width="3" height="1" fill="#1E90FF"/>
<rect x="75" y="156" width="1" height="33" fill="#1E90FF"/>
<rect x="74" y="159" width="3" height="29" fill="#1E90FF"/>
<rect x="79" y="155" width="1" height="20" fill="#FF0000"/>
<rect x="78" y="160" width="3" height="13" fill="#FF0000"/>
<rect x="83" y="168" width="1" height="19" fill="#1E90FF"/>
<rect x="82" y="171" width="3" height="1" fill="#1E90FF"/>
<rect x="87" y="170" width="1" height="14" fill="#FF0000"/>
<rect x="86" y="171" width="3" height="11" fill="#FF0000"/>
<rect x="91" y="170" width="1" height="14" fill="#1E90FF"/>
<rect x="90" y="174" width="3" height="8" fill="#1E90FF"/>
<rect x="95" y="173" width="1" height="9" fill="#FF0000"/>
<rect x="94" y="174" width="3" height="6" fill="#FF0000"/>
<rect x="99" y="174" width="1" height="16" fill="#FF0000"/>
<rect x="98" y="175" width="3" height="11" fill="#FF0000"/>
<rect x="103" y="176" width="1" height="11" fill="#1E90FF"/>
<rect x="102" y="177" width="3" height="9" fill="#1E90FF"/>
<rect x="107" y="177" width="1" height="8" fill="#FF0000"/>
<rect x="106" y="178" width="3" height="5" fill="#FF0000"/>
<rect x="111" y="179" width="1" height="4" fill="#1E90FF"/>
<rect x="110" y="180" width="3" height="3" fill="#1E90FF"/>
<rect x="115" y="178" width="1" height="6" fill="#FF0000"/>
<rect x="114" y="180" width="3" height="2" fill="#FF0000"/>
<rect x="119" y="179" width="1" height="4" fill="#1E90FF"/>
<rect x="118" y="180" width="3" height="3" fill="#1E90FF"/>
<rect x="123" y="180" width="1" height="4" fill="#FF0000"/>
<rect x="122" y="180" width="3" height="3" fill="#FF0000"/>
<rect x="127" y="180" width="1" height="6" fill="#FF0000"/>
<rect x="126" y="182" width="3" height="3" fill="#FF0000"/>
<rect x="131" y="182" width="1" height="6" fill="#FF0000"/>
<rect x="130" y="184" width="3" height="3" fill="#FF0000"/>
<rect x="135" y="185" width="1" height="6" fill="#FF0000"/>
<rect x="134" y="186" width="3" height="3" fill="#FF0000"/>
<rect x="139" y="188" width="1" height="8" fill="#FF0000"/>
<rect x="138" y="189" width="3" height="5" fill="#FF0000"/>
<rect x="143" y="185" width="1" height="10" fill="#1E90FF"/>
<rect x="142" y="191" width="3" height="3" fill="#1E90FF"/>
<rect x="147" y="181" width="1" height="37" fill="#FF0000"/>
<rect x="146" y="191" width="3" height="25" fill="#FF0000"/>
<rect x="151" y="204" width="1" height="17" fill="#FF0000"/>
<rect x="150" y="214" width="3" height="5" fill="#FF0000"/>
<rect x="155" y="209" width="1" height="21" fill="#1E90FF"/>
<rect x="154" y="211" width="3" height="8" fill="#1E90FF"/>
<rect x="159" y="196" width="1" height="25" fill="#1E90FF"/>
<rect x="158" y="199" width="3" height="12" fill="#1E90FF"/>
<rect x="163" y="189" width="1" height="20" fill="#1E90FF"/>
<rect x="162" y="192" width="3" height="7" fill="#1E90FF"/>
<rect x="167" y="181" width="1" height="18" fill="#FF0000"/>
<rect x="166" y="194" width="3" height="4" fill="#FF0000"/>
<rect x="171" y="165" width="1" height="39" fill="#1E90FF"/>
<rect x="170" y="175" width="3" height="23" fill="#1E90FF"/>
<rect x="175" y="168" width="1" height="26" fill="#1E90FF"/>
<rect x="174" y="169" width="3" height="6" fill="#1E90FF"/>
<rect x="179" y="147" width="1" height="52" fill="#1E90FF"/>
<rect x="178" y="157" width="3" height="12" fill="#1E90FF"/>
<rect x="183" y="143" width="1" height="23" fill="#FF0000"/>
<rect x="182" y="157" width="3" height="9" fill="#FF0000"/>
<rect x="187" y="144" width="1" height="22" fill="#1E90FF"/>
<rect x="186" y="148" width="3" height="17" fill="#1E90FF"/>
<rect x="191" y="135" width="1" height="22" fill="#FF0000"/>
<rect x="190" y="148" width="3" height="6" fill="#FF0000"/>
<rect x="195" y="147" width="1" height="7" fill="#1E90FF"/>
<rect x="194" y="153" width="3" height="1" fill="#1E90FF"/>
<rect x="199" y="148" width="1" height="9" fill="#FF0000"/>
<rect x="198" y="152" width="3" height="2" fill="#FF0000"/>
<rect x="203" y="154" width="1" height="7" fill="#FF0000"/>
<rect x="202" y="154" width="3" height="5" fill="#FF0000"/>
<rect x="207" y="156" width="1" height="4" fill="#1E90FF"/>
<rect x="206" y="157" width="3" height="1" fill="#1E90FF"/>
<rect x="211" y="156" width="1" height="7" fill="#FF0000"/>
<rect x="210" y="157" width="3" height="5" fill="#FF0000"/>
<rect x="215" y="157" width="1" height="6" fill="#1E90FF"/>
<rect x="214" y="161" width="3" height="2" fill="#1E90FF"/>
<rect x="219" y="157" width="1" height="7" fill="#1E90FF"/>
<rect x="218" y="160" width="3" height="1" fill="#1E90FF"/>
<rect x="223" y="152" width="1" height="13" fill="#1E90FF"/>
<rect x="222" y="152" width="3" height="10" fill="#1E90FF"/>
<rect x="227" y="139" width="1" height="18" fill="#1E90FF"/>
<rect x="226" y="139" width="3" height="15" fill="#1E90FF"/>
<rect x="231" y="124" width="1" height="19" fill="#1E90FF"/>
<rect x="230" y="131" width="3" height="10" fill="#1E90FF"/>
<rect x="235" y="127" width="1" height="10" fill="#1E90FF"/>
<rect x="234" y="128" width="3" height="2" fill="#1E90FF"/>
<rect x="239" y="124" width="1" height="9" fill="#FF0000"/>
<rect x="238" y="127" width="3" height="4" fill="#FF0000"/>
<rect x="243" y="110" width="1" height="26" fill="#1E90FF"/>
<rect x="242" y="115" width="3" height="17" fill="#1E90FF"/>
<rect x="247" y="106" width="1" height="30" fill="#FF0000"/>
<rect x="246" y="115" width="3" height="7" fill="#FF0000"/>
<rect x="251" y="115" width="1" height="19" fill="#FF0000"/>
<rect x="250" y="121" width="3" height="12" fill="#FF0000"/>
<rect x="255" y="129" width="1" height="20" fill="#FF0000"/>
<rect x="254" y="132" width="3" height="7" fill="#FF0000"/>
<rect x="259" y="125" width="1" height="17" fill="#1E90FF"/>
<rect x="258" y="131" width="3" height="9" fill="#1E90FF"/>
<rect x="263" y="125" width="1" height="15" fill="#FF0000"/>
<rect x="262" y="131" width="3" height="5" fill="#FF0000"/>
<rect x="267" y="96" width="1" height="40" fill="#1E90FF"/>
<rect x="266" y="99" width="3" height="37" fill="#1E90FF"/>
<rect x="271" y="62" width="1" height="46" fill="#1E90FF"/>
<rect x="270" y="67" width="3" height="33" fill="#1E90FF"/>
<rect x="275" y="48" width="1" height="23" fill="#1E90FF"/>
<rect x="274" y="56" width="3" height="12" fill="#1E90FF"/>
<rect x="279" y="54" width="1" height="19" fill="#FF0000"/>
<rect x="278" y="57" width="3" height="5" fill="#FF0000"/>
<rect x="283" y="57" width="1" height="22" fill="#FF0000"/>
<rect x="282" y="61" width="3" height="15" fill="#FF0000"/>
<rect x="287" y="63" width="1" height="13" fill="#1E90FF"/>
<rect x="286" y="68" width="3" height="6" fill="#1E90FF"/>
<rect x="291" y="46" width="1" height="21" fill="#1E90FF"/>
<rect x="290" y="54" width="3" height="13" fill="#1E90FF"/>
<rect x="295" y="54" width="1" height="9" fill="#FF0000"/>
<rect x="294" y="56" width="3" height="5" fill="#FF0000"/>
<rect x="299" y="58" width="1" height="5" fill="#FF0000"/>
<rect x="298" y="59" width="3" height="2" fill="#FF0000"/>
<rect x="303" y="58" width="1" height="6" fill="#FF0000"/>
<rect x="302" y="60" width="3" height="3" fill="#FF0000"/>
<rect x="307" y="61" width="1" height="4" fill="#FF0000"/>
<rect x="306" y="62" width="3" height="2" fill="#FF0000"/>
<rect x="311" y="60" width="1" height="6" fill="#FF0000"/>
<rect x="310" y="62" width="3" height="3" fill="#FF0000"/>
<rect x="315" y="62" width="1" height="10" fill="#FF0000"/>
<rect x="314" y="64" width="3" height="7" fill="#FF0000"/>
<rect x="319" y="64" width="1" height="11" fill="#FF0000"/>
<rect x="318" y="70" width="3" height="3" fill="#FF0000"/>
<rect x="323" y="64" width="1" height="9" fill="#1E90FF"/>
<rect x="322" y="65" width="3" height="7" fill="#1E90FF"/>
<rect x="327" y="60" width="1" height="7" fill="#1E90FF"/>
<rect x="326" y="62" width="3" height="4" fill="#1E90FF"/>
<rect x="331" y="60" width="1" height="5" fill="#1E90FF"/>
<rect x="330" y="61" width="3" height="2" fill="#1E90FF"/>
<rect x="335" y="49" width="1" height="15" fill="#1E90FF"/>
<rect x="334" y="54" width="3" height="10" fill="#1E90FF"/>
<rect x="339" y="46" width="1" height="22" fill="#FF0000"/>
<rect x="338" y="54" width="3" height="11" fill="#FF0000"/>
<rect x="343" y="39" width="1" height="29" fill="#1E90FF"/>
<rect x="342" y="49" width="3" height="16" fill="#1E90FF"/>
<rect x="347" y="47" width="1" height="19" fill="#FF0000"/>
<rect x="346" y="48" width="3" height="6" fill="#FF0000"/>
<rect x="351" y="33" width="1" height="26" fill="#1E90FF"/>
<rect x="350" y="42" width="3" height="14" fill="#1E90FF"/>
<rect x="355" y="40" width="1" height="32" fill="#FF0000"/>
<rect x="354" y="41" width="3" height="22" fill="#FF0000"/>
<rect x="359" y="61" width="1" height="32" fill="#FF0000"/>
<rect x="358" y="61" width="3" height="30" fill="#FF0000"/>
<rect x="363" y="80" width="1" height="33" fill="#FF0000"/>
<rect x="362" y="90" width="3" height="2" fill="#FF0000"/>
<rect x="367" y="83" width="1" height="26" fill="#FF0000"/>
<rect x="366" y="92" width="3" height="16" fill="#FF0000"/>
<rect x="371" y="103" width="1" height="25" fill="#FF0000"/>
<rect x="370" y="107" width="3" height="6" fill="#FF0000"/>
<rect x="375" y="95" width="1" height="21" fill="#1E90FF"/>
<rect x="374" y="98" width="3" height="15" fill="#1E90FF"/>
<rect x="379" y="97" width="1" height="13" fill="#FF0000"/>
<rect x="378" y="99" width="3" height="11" fill="#FF0000"/>
<rect x="383" y="106" width="1" height="11" fill="#FF0000"/>
<rect x="382" y="108" width="3" height="3" fill="#FF0000"/>
<rect x="387" y="100" width="1" height="15" fill="#1E90FF"/>
<rect x="386" y="108" width="3" height="2" fill="#1E90FF"/>
<rect x="391" y="104" width="1" height="9" fill="#1E90FF"/>
<rect x="390" y="107" width="3" height="3" fill="#1E90FF"/>
<rect x="395" y="104" width="1" height="7" fill="#FF0000"/>
<rect x="394" y="107" width="3" height="2" fill="#FF0000"/>
<rect x="399" y="102" width="1" height="21" fill="#FF0000"/>
<rect x="398" y="109" width="3" height="9" fill="#FF0000"/>
<rect x="403" y="117" width="1" height="16" fill="#FF0000"/>
<rect x="402" y="117" width="3" height="8" fill="#FF0000"/>
<rect x="407" y="118" width="1" height="10" fill="#1E90FF"/>
<rect x="406" y="122" width="3" height="3" fill="#1E90FF"/>
<rect x="411" y="114" width="1" height="9" fill="#1E90FF"/>
<rect x="410" y="120" width="3" height="2" fill="#1E90FF"/>
<rect x="415" y="116" width="1" height="13" fill="#FF0000"/>
<rect x="414" y="121" width="3" height="3" fill="#FF0000"/>
<rect x="419" y="123" width="1" height="20" fill="#FF0000"/>
<rect x="418" y="124" width="3" height="18" fill="#FF0000"/>
<rect x="423" y="140" width="1" height="11" fill="#FF0000"/>
<rect x="422" y="142" width="3" height="6" fill="#FF0000"/>
<rect x="427" y="135" width="1" height="13" fill="#1E90FF"/>
<rect x="426" y="139" width="3" height="8" fill="#1E90FF"/>
<rect x="431" y="131" width="1" height="18" fill="#FF0000"/>
<rect x="430" y="138" width="3" height="9" fill="#FF0000"/>
<rect x="435" y="144" width="1" height="17" fill="#FF0000"/>
<rect x="434" y="146" width="3" height="8" fill="#FF0000"/>
<rect x="439" y="135" width="1" height="23" fill="#1E90FF"/>
<rect x="438" y="139" width="3" height="13" fill="#1E90FF"/>
<rect x="443" y="122" width="1" height="18" fill="#1E90FF"/>
<rect x="442" y="129" width="3" height="11" fill="#1E90FF"/>
<rect x="447" y="121" width="1" height="15" fill="#1E90FF"/>
<rect x="446" y="126" width="3" height="3" fill="#1E90FF"/>
<rect x="451" y="122" width="1" height="20" fill="#FF0000"/>
<rect x="450" y="125" width="3" height="17" fill="#FF0000"/>
<rect x="455" y="131" width="1" height="13" fill="#FF0000"/>
<rect x="454" y="140" width="3" height="3" fill="#FF0000"/>
<rect x="459" y="95" width="1" height="67" fill="#1E90FF"/>
<rect x="458" y="109" width="3" height="33" fill="#1E90FF"/>
<rect x="463" y="104" width="1" height="35" fill="#FF0000"/>
<rect x="462" y="108" width="3" height="25" fill="#FF0000"/>
<rect x="467" y="130" width="1" height="30" fill="#FF0000"/>
<rect x="466" y="131" width="3" height="5" fill="#FF0000"/>
<rect x="471" y="114" width="1" height="28" fill="#1E90FF"/>
<rect x="470" y="125" width="3" height="12" fill="#1E90FF"/>
<rect x="475" y="120" width="1" height="23" fill="#FF0000"/>
<rect x="474" y="123" width="3" height="15" fill="#FF0000"/>
<rect x="479" y="126" width="1" height="14" fill="#1E90FF"/>
<rect x="478" y="133" width="3" height="5" fill="#1E90FF"/>
<rect x="483" y="131" width="1" height="21" fill="#FF0000"/>
<rect x="482" y="132" width="3" height="14" fill="#FF0000"/>
<rect x="487" y="138" width="1" height="10" fill="#1E90FF"/>
<rect x="486" y="144" width="3" height="2" fill="#1E90FF"/>
<rect x="491" y="141" width="1" height="9" fill="#FF0000"/>
<rect x="490" y="144" width="3" height="4" fill="#FF0000"/>
<rect x="495" y="145" width="1" height="9" fill="#FF0000"/>
<rect x="494" y="146" width="3" height="5" fill="#FF0000"/>
<rect x="499" y="150" width="1" height="5" fill="#FF0000"/>
<rect x="498" y="151" width="3" height="1" fill="#FF0000"/>
<rect x="503" y="147" width="1" height="24" fill="#FF0000"/>
<rect x="502" y="152" width="3" height="18" fill="#FF0000"/>
<rect x="507" y="166" width="1" height="11" fill="#FF0000"/>
<rect x="506" y="170" width="3" height="5" fill="#FF0000"/>
<rect x="511" y="168" width="1" height="10" fill="#FF0000"/>
<rect x="510" y="173" width="3" height="3" fill="#FF0000"/>
<rect x="515" y="174" width="1" height="16" fill="#FF0000"/>
<rect x="514" y="174" width="3" height="10" fill="#FF0000"/>
<rect x="519" y="178" width="1" height="8" fill="#1E90FF"/>
<rect x="518" y="180" width="3" height="4" fill="#1E90FF"/>
<rect x="523" y="176" width="1" height="13" fill="#FF0000"/>
<rect x="522" y="179" width="3" height="4" fill="#FF0000"/>
<rect x="527" y="151" width="1" height="34" fill="#1E90FF"/>
<rect x="526" y="154" width="3" height="29" fill="#1E90FF"/>
<rect x="531" y="154" width="1" height="23" fill="#FF0000"/>
<rect x="530" y="155" width="3" height="21" fill="#FF0000"/>
<rect x="535" y="162" width="1" height="15" fill="#1E90FF"/>
<rect x="534" y="168" width="3" height="8" fill="#1E90FF"/>
<rect x="539" y="162" width="1" height="18" fill="#FF0000"/>
<rect x="538" y="168" width="3" height="7" fill="#FF0000"/>
<rect x="543" y="166" width="1" height="14" fill="#FF0000"/>
<rect x="542" y="172" width="3" height="6" fill="#FF0000"/>
<rect x="547" y="172" width="1" height="15" fill="#FF0000"/>
<rect x="546" y="176" width="3" height="9" fill="#FF0000"/>
<rect x="551" y="176" width="1" height="13" fill="#1E90FF"/>
<rect x="550" y="183" width="3" height="2" fill="#1E90FF"/>
<rect x="555" y="163" width="1" height="23" fill="#1E90FF"/>
<rect x="554" y="177" width="3" height="8" fill="#1E90FF"/>
<rect x="559" y="166" width="1" height="15" fill="#FF0000"/>
<rect x="558" y="176" width="3" height="4" fill="#FF0000"/>
<rect x="563" y="171" width="1" height="21" fill="#FF0000"/>
<rect x="562" y="180" width="3" height="5" fill="#FF0000"/>
<rect x="567" y="174" width="1" height="16" fill="#1E90FF"/>
<rect x="566" y="174" width="3" height="12" fill="#1E90FF"/>
<rect x="571" y="167" width="1" height="16" fill="#1E90FF"/>
<rect x="570" y="172" width="3" height="2" fill="#1E90FF"/>
<rect x="575" y="168" width="1" height="12" fill="#FF0000"/>
<rect x="574" y="172" width="3" height="5" fill="#FF0000"/>
<rect x="579" y="172" width="1" height="8" fill="#FF0000"/>
<rect x="578" y="175" width="3" height="4" fill="#FF0000"/>
<rect x="583" y="174" width="1" height="6" fill="#1E90FF"/>
<rect x="582" y="176" width="3" height="4" fill="#1E90FF"/>
<rect x="587" y="174" width="1" height="5" fill="#FF0000"/>
<rect x="586" y="177" width="3" height="1" fill="#FF0000"/>
<rect x="591" y="175" width="1" height="9" fill="#FF0000"/>
<rect x="590" y="177" width="3" height="3" fill="#FF0000"/>
<rect x="595" y="178" width="1" height="9" fill="#FF0000"/>
<rect x="594" y="179" width="3" height="4" fill="#FF0000"/>
<rect x="599" y="178" width="1" height="12" fill="#FF0000"/>
<rect x="598" y="180" width="3" height="6" fill="#FF0000"/>
<rect x="603" y="180" width="1" height="9" fill="#1E90FF"/>
<rect x="602" y="180" width="3" height="6" fill="#1E90FF"/>
<rect x="607" y="168" width="1" height="15" fill="#1E90FF"/>
<rect x="606" y="171" width="3" height="11" fill="#1E90FF"/>
<rect x="611" y="168" width="1" height="10" fill="#FF0000"/>
<rect x="610" y="170" width="3" height="7" fill="#FF0000"/>
<rect x="615" y="166" width="1" height="11" fill="#1E90FF"/>
<rect x="614" y="167" width="3" height="9" fill="#1E90FF"/>
<rect x="619" y="155" width="1" height="12" fill="#1E90FF"/>
<rect x="618" y="163" width="3" height="3" fill="#1E90FF"/>
<rect x="623" y="146" width="1" height="24" fill="#1E90FF"/>
<rect x="622" y="159" width="3" height="6" fill="#1E90FF"/>
<rect x="627" y="125" width="1" height="39" fill="#1E90FF"/>
<rect x="626" y="133" width="3" height="26" fill="#1E90FF"/>
<rect x="631" y="107" width="1" height="27" fill="#1E90FF"/>
<rect x="630" y="113" width="3" height="21" fill="#1E90FF"/>
<rect x="635" y="101" width="1" height="19" fill="#1E90FF"/>
<rect x="634" y="109" width="3" height="7" fill="#1E90FF"/>
<rect x="639" y="104" width="1" height="15" fill="#FF0000"/>
<rect x="638" y="108" width="3" height="9" fill="#FF0000"/>
<rect x="643" y="114" width="1" height="15" fill="#FF0000"/>
<rect x="642" y="116" width="3" height="11" fill="#FF0000"/>
<rect x="647" y="121" width="1" height="13" fill="#FF0000"/>
<rect x="646" y="127" width="3" height="5" fill="#FF0000"/>
<rect x="651" y="111" width="1" height="26" fill="#1E90FF"/>
<rect x="650" y="119" width="3" height="14" fill="#1E90FF"/>
<rect x="655" y="109" width="1" height="19" fill="#FF0000"/>
<rect x="654" y="118" width="3" height="4" fill="#FF0000"/>
<rect x="659" y="118" width="1" height="16" fill="#FF0000"/>
<rect x="658" y="120" width="3" height="7" fill="#FF0000"/>
<rect x="663" y="115" width="1" height="13" fill="#FF0000"/>
<rect x="662" y="125" width="3" height="2" fill="#FF0000"/>
<rect x="667" y="124" width="1" height="16" fill="#FF0000"/>
<rect x="666" y="126" width="3" height="10" fill="#FF0000"/>
<rect x="671" y="133" width="1" height="8" fill="#FF0000"/>
<rect x="670" y="135" width="3" height="3" fill="#FF0000"/>
<rect x="675" y="135" width="1" height="8" fill="#FF0000"/>
<rect x="674" y="136" width="3" height="7" fill="#FF0000"/>
<rect x="679" y="138" width="1" height="8" fill="#FF0000"/>
<rect x="678" y="139" width="3" height="3" fill="#FF0000"/>
<rect x="683" y="135" width="1" height="11" fill="#1E90FF"/>
<rect x="682" y="136" width="3" height="6" fill="#1E90FF"/>
<rect x="687" y="136" width="1" height="6" fill="#FF0000"/>
<rect x="686" y="136" width="3" height="6" fill="#FF0000"/>
<rect x="691" y="136" width="1" height="6" fill="#1E90FF"/>
<rect x="690" y="138" width="3" height="3" fill="#1E90FF"/>
<rect x="695" y="128" width="1" height="14" fill="#1E90FF"/>
<rect x="694" y="132" width="3" height="6" fill="#1E90FF"/>
<rect x="699" y="131" width="1" height="9" fill="#FF0000"/>
<rect x="698" y="131" width="3" height="7" fill="#FF0000"/>
<rect x="703" y="126" width="1" height="13" fill="#1E90FF"/>
<rect x="702" y="128" width="3" height="11" fill="#1E90FF"/>
<rect x="707" y="121" width="1" height="8" fill="#1E90FF"/>
<rect x="706" y="125" width="3" height="3" fill="#1E90FF"/>
<rect x="711" y="115" width="1" height="12" fill="#1E90FF"/>
<rect x="710" y="119" width="3" height="7" fill="#1E90FF"/>
<rect x="715" y="116" width="1" height="13" fill="#FF0000"/>
<rect x="714" y="121" width="3" height="8" fill="#FF0000"/>
<rect x="719" y="109" width="1" height="27" fill="#1E90FF"/>
<rect x="718" y="118" width="3" height="11" fill="#1E90FF"/>
<rect x="723" y="112" width="1" height="16" fill="#FF0000"/>
<rect x="722" y="117" width="3" height="2" fill="#FF0000"/>
<rect x="727" y="114" width="1" height="24" fill="#FF0000"/>
<rect x="726" y="120" width="3" height="14" fill="#FF0000"/>
<rect x="731" y="121" width="1" height="28" fill="#1E90FF"/>
<rect x="730" y="131" width="3" height="1" fill="#1E90FF"/>
<rect x="735" y="128" width="1" height="15" fill="#1E90FF"/>
<rect x="734" y="132" width="3" height="1" fill="#1E90FF"/>
</g>
<g shape-rendering="crispEdges" fill="#000">
<rect x="2" y="2" width="759" height="1"/>
<rect x="2" y="2" width="1" height="492"/><rect x="2" y="495" width="1" height="88"/>
<rect x="760" y="2" width="1" height="492"/><rect x="760" y="495" width="1" height="88"/>
<rect x="2" y="493" width="759" height="1"/>
<rect x="2" y="495" width="759" height="1"/>
<rect x="2" y="582" width="759" height="1"/>
<rect x="761" y="25" width="2" height="1"/>
<rect x="761" y="58" width="2" height="1"/>
<rect x="761" y="91" width="2" height="1"/>
<rect x="761" y="124" width="2" height="1"/>
<rect x="761" y="157" width="2" height="1"/>
<rect x="761" y="191" width="2" height="1"/>
<rect x="761" y="224" width="2" height="1"/>
<rect x="761" y="257" width="2" height="1"/>
<rect x="761" y="290" width="2" height="1"/>
<rect x="761" y="323" width="2" height="1"/>
<rect x="761" y="357" width="2" height="1"/>
<rect x="761" y="390" width="2" height="1"/>
<rect x="761" y="423" width="2" height="1"/>
<rect x="761" y="456" width="2" height="1"/>
<rect x="761" y="489" width="2" height="1"/>
<rect x="761" y="497" width="1" height="1"/>
<rect x="761" y="548" width="1" height="1"/>
<rect x="761" y="581" width="1" height="1"/>
<rect x="3" y="583" width="1" height="3"/>
<rect x="67" y="583" width="1" height="3"/>
<rect x="131" y="583" width="1" height="3"/>
<rect x="195" y="583" width="1" height="3"/>
<rect x="259" y="583" width="1" height="3"/>
<rect x="323" y="583" width="1" height="3"/>
<rect x="387" y="583" width="1" height="3"/>
<rect x="451" y="583" width="1" height="3"/>
<rect x="515" y="583" width="1" height="3"/>
<rect x="579" y="583" width="1" height="3"/>
<rect x="643" y="583" width="1" height="3"/>
<rect x="707" y="583" width="1" height="3"/>
</g>
<text class="ax" x="766.5" y="28" textLength="27.5" lengthAdjust="spacingAndGlyphs">1.1405</text>
<text class="ax" x="766.5" y="61" textLength="27.5" lengthAdjust="spacingAndGlyphs">1.1350</text>
<text class="ax" x="766.5" y="94" textLength="27.5" lengthAdjust="spacingAndGlyphs">1.1295</text>
<text class="ax" x="766.5" y="127" textLength="27.5" lengthAdjust="spacingAndGlyphs">1.1240</text>
<text class="ax" x="766.5" y="160" textLength="27.5" lengthAdjust="spacingAndGlyphs">1.1185</text>
<text class="ax" x="766.5" y="194" textLength="27.5" lengthAdjust="spacingAndGlyphs">1.1130</text>
<text class="ax" x="766.5" y="227" textLength="27.5" lengthAdjust="spacingAndGlyphs">1.1075</text>
<text class="ax" x="766.5" y="260" textLength="27.5" lengthAdjust="spacingAndGlyphs">1.1020</text>
<text class="ax" x="766.5" y="293" textLength="27.5" lengthAdjust="spacingAndGlyphs">1.0965</text>
<text class="ax" x="766.5" y="326" textLength="27.5" lengthAdjust="spacingAndGlyphs">1.0910</text>
<text class="ax" x="766.5" y="360" textLength="27.5" lengthAdjust="spacingAndGlyphs">1.0855</text>
<text class="ax" x="766.5" y="393" textLength="27.5" lengthAdjust="spacingAndGlyphs">1.0800</text>
<text class="ax" x="766.5" y="426" textLength="27.5" lengthAdjust="spacingAndGlyphs">1.0745</text>
<text class="ax" x="766.5" y="459" textLength="27.5" lengthAdjust="spacingAndGlyphs">1.0690</text>
<text class="ax" x="766.5" y="492" textLength="27.5" lengthAdjust="spacingAndGlyphs">1.0635</text>
<text x="764.5" y="506" textLength="32.5" lengthAdjust="spacingAndGlyphs" class="ax">0.01002</text>
<text x="764.5" y="551" textLength="17.5" lengthAdjust="spacingAndGlyphs" class="ax">0.00</text>
<text x="764.5" y="579" textLength="35.5" lengthAdjust="spacingAndGlyphs" class="ax">-0.00638</text>
<g shape-rendering="crispEdges">
<rect x="762" y="28" width="36" height="11" fill="#FF0000"/>
<rect x="762" y="90" width="36" height="11" fill="#FF0000"/>
<rect x="762" y="186" width="36" height="11" fill="#FF0000"/>
<rect x="762" y="224" width="36" height="11" fill="#FF0000"/>
<rect x="762" y="289" width="36" height="11" fill="#FF0000"/>
<rect x="762" y="349" width="36" height="11" fill="#FF0000"/>
<rect x="762" y="394" width="36" height="11" fill="#FF0000"/>
<rect x="762" y="469" width="36" height="11" fill="#FF0000"/>
<rect x="762" y="126" width="36" height="11" fill="#000"/>
</g>
<text class="w ax" x="766.5" y="37" textLength="26.5" lengthAdjust="spacingAndGlyphs">1.1390</text>
<text class="w ax" x="766.5" y="99" textLength="26.5" lengthAdjust="spacingAndGlyphs">1.1287</text>
<text class="w ax" x="766.5" y="195" textLength="26.5" lengthAdjust="spacingAndGlyphs">1.1128</text>
<text class="w ax" x="766.5" y="233" textLength="26.5" lengthAdjust="spacingAndGlyphs">1.1064</text>
<text class="w ax" x="766.5" y="298" textLength="26.5" lengthAdjust="spacingAndGlyphs">1.0958</text>
<text class="w ax" x="766.5" y="358" textLength="26.5" lengthAdjust="spacingAndGlyphs">1.0858</text>
<text class="w ax" x="766.5" y="403" textLength="26.5" lengthAdjust="spacingAndGlyphs">1.0784</text>
<text class="w ax" x="766.5" y="478" textLength="26.5" lengthAdjust="spacingAndGlyphs">1.0658</text>
<text class="w ax" x="766.5" y="135" textLength="26.5" lengthAdjust="spacingAndGlyphs">1.1227</text>
<text x="2.7" y="595" textLength="48.9" lengthAdjust="spacingAndGlyphs">1 May 2015</text>
<text x="66.7" y="595" textLength="52.9" lengthAdjust="spacingAndGlyphs">4 May 12:00</text>
<text x="130.7" y="595" textLength="52.9" lengthAdjust="spacingAndGlyphs">5 May 04:00</text>
<text x="194.7" y="595" textLength="52.9" lengthAdjust="spacingAndGlyphs">5 May 20:00</text>
<text x="258.7" y="595" textLength="52.9" lengthAdjust="spacingAndGlyphs">6 May 12:00</text>
<text x="322.7" y="595" textLength="52.9" lengthAdjust="spacingAndGlyphs">7 May 04:00</text>
<text x="386.7" y="595" textLength="52.9" lengthAdjust="spacingAndGlyphs">7 May 20:00</text>
<text x="450.7" y="595" textLength="52.9" lengthAdjust="spacingAndGlyphs">8 May 12:00</text>
<text x="514.7" y="595" textLength="58.1" lengthAdjust="spacingAndGlyphs">11 May 05:00</text>
<text x="578.7" y="595" textLength="58.1" lengthAdjust="spacingAndGlyphs">11 May 21:00</text>
<text x="642.7" y="595" textLength="58.1" lengthAdjust="spacingAndGlyphs">12 May 13:00</text>
<text x="706.7" y="595" textLength="58.1" lengthAdjust="spacingAndGlyphs">13 May 05:00</text>
<rect x="17" y="5" width="183" height="11" fill="#FFFAFA"/>
<path d="M6 9 L13 9 L9.5 13 Z" fill="#000"/>
<text x="18" y="14" textLength="181" lengthAdjust="spacingAndGlyphs" xml:space="preserve">EURUSD,H1  1.1227 1.1233 1.1211 1.1227</text>
<text x="7" y="508" textLength="132.5" lengthAdjust="spacingAndGlyphs">MACD(5,34,5) 0.00117 0.00185</text>
<text x="7.5" y="578" textLength="231" lengthAdjust="spacingAndGlyphs">MetaTrader, © 2001-2014, MetaQuotes Software Corp.</text>
</svg></body></html>
